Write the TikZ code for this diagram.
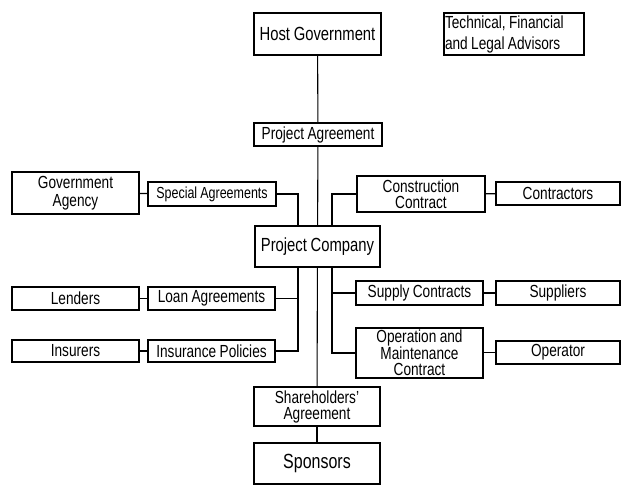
\documentclass[tikz,border=0pt]{standalone}
\usepackage{fontspec}
\setmainfont{Liberation Sans}[FakeStretch=0.78,WordSpace=0.9]
\usepackage{tikz}
\frenchspacing

\begin{document}
\begin{tikzpicture}[x=1pt,y=-1pt,
    every node/.style={font=\fontsize{17.5}{16}\selectfont},
    box/.style={draw,line width=1.3pt,inner sep=0pt,align=center,minimum width=127pt},
    big/.style={font=\fontsize{19}{16}\selectfont},
    link/.style={line width=1.1pt}
]
\useasboundingbox (0,0) rectangle (622,485);
\node[box,big,minimum height=42pt] (hostgov) at (317.5,34) {Host Government};
\node[box,minimum width=140pt,minimum height=42pt,text width=138pt,align=flush left,
    font=\fontsize{17.5}{21}\selectfont] (advisors) at (514,34)
    {Technical, Financial\\and Legal Advisors};
\node[box,minimum width=128pt,minimum height=23pt] (projagr) at (318,134.5) {Project Agreement};
\node[box,big,minimum width=125pt,minimum height=41pt] (projco) at (317.5,246.5) {Project Company};
\node[box,minimum height=42pt,font=\fontsize{17.5}{18}\selectfont] (govagency) at (75.5,193)
    {Government\\Agency};
\node[box,minimum width=128pt,minimum height=24pt,font=\fontsize{16}{15}\selectfont] (special) at (212,194)
    {Special Agreements};
\node[box,minimum height=23pt] (lenders) at (75.5,298.5) {Lenders};
\node[box,minimum height=23pt] (loan) at (211.5,298.5) {Loan Agreements};
\node[box,minimum height=22pt] (insurers) at (75.5,351) {Insurers};
\node[box,minimum height=22pt] (insurance) at (211.5,351) {Insurance Policies};
\node[box,minimum width=128pt,minimum height=36pt] (construction) at (421,194)
    {Construction\\Contract};
\node[box,minimum width=124pt,minimum height=23pt] (contractors) at (558,193.5) {Contractors};
\node[box,minimum height=24pt] (supply) at (419.5,293) {Supply Contracts};
\node[box,minimum width=124pt,minimum height=24pt] (suppliers) at (558,293) {Suppliers};
\node[box,minimum height=50pt] (om) at (419.5,353)
    {Operation and\\Maintenance\\Contract};
\node[box,minimum width=124pt,minimum height=23pt] (operator) at (558,352.5) {Operator};
\node[box,minimum width=126pt,minimum height=39pt] (sharehold) at (317,406.5)
    {Shareholders'\\Agreement};
\node[box,minimum width=126pt,minimum height=41pt,font=\fontsize{20.5}{17}\selectfont] (sponsors) at (317,463.5)
    {Sponsors};
\coordinate (ltop) at ([xshift=-19.5pt]projco.north);
\coordinate (rtop) at ([xshift=14.5pt]projco.north);
\coordinate (lbus) at ([xshift=-19.5pt]projco.south);
\coordinate (rbus) at ([xshift=14.5pt]projco.south);
\draw[link] (hostgov) -- (projagr);
\draw[link] (projagr) -- (projco);
\draw[link] (projco) -- (sharehold);
\draw[link] (sharehold) -- (sponsors);
\draw[link] (govagency) -- (special);
\draw[link] (special.east) -| (ltop);
\draw[link] (lbus) |- (insurance.east);
\draw[link] (loan.east) -- (loan.east -| lbus);
\draw[link] (lenders) -- (loan);
\draw[link] (insurers) -- (insurance);
\draw[link] (construction.west) -| (rtop);
\draw[link] (rbus) |- (om.west);
\draw[link] (supply.west) -- (supply.west -| rbus);
\draw[link] (construction) -- (contractors);
\draw[link] (supply) -- (suppliers);
\draw[link] (operator.west -| om.east) -- (operator.west);
\end{tikzpicture}
\end{document}
